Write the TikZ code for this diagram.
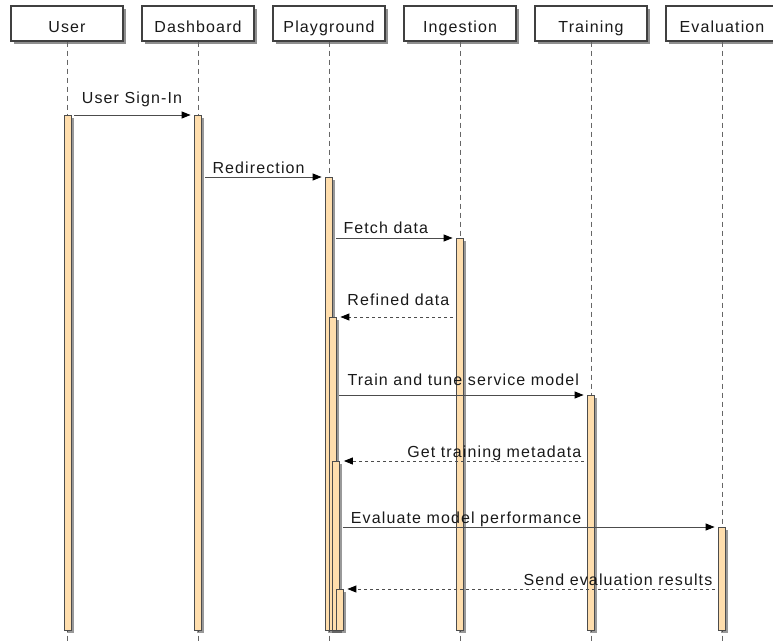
\documentclass[tikz,border=0pt]{standalone}
\usepackage{fontspec}
\setmainfont{Liberation Sans}[LetterSpace=7.0]
\usetikzlibrary{arrows.meta,shadows}
\definecolor{barfill}{RGB}{255,222,173}
\definecolor{txtclr}{RGB}{25,25,25}
\begin{document}
\begin{tikzpicture}[x=1pt,y=-1pt,
  every node/.style={font=\fontsize{16}{19}\selectfont, text=txtclr},
  head/.style={draw=black!75, line width=1.2pt, fill=white, minimum width=112pt,
    minimum height=35pt, inner sep=0pt, text height=19pt, text depth=0pt, anchor=base,
    drop shadow={shadow xshift=3pt, shadow yshift=-3.5pt, opacity=0.55, fill=black!80}},
  lifeline/.style={draw=black!60, line width=0.8pt, dash pattern=on 5pt off 4pt},
  actbar/.style={draw=black!70, line width=0.8pt, fill=barfill, minimum width=7pt,
    inner sep=0pt, anchor=north,
    drop shadow={shadow xshift=2.5pt, shadow yshift=-2.5pt, opacity=0.5, fill=black!80}},
  msg/.style={draw=black!70, line width=0.9pt,
    -{Triangle[length=9pt,width=7pt,color=black]}, shorten <=3pt, shorten >=3.5pt},
  ret/.style={msg, dash pattern=on 3pt off 3pt, shorten >=4pt},
  lblw/.style={inner sep=0pt, anchor=base west},
  lble/.style={inner sep=0pt, anchor=base east}
]
\useasboundingbox (0,0) rectangle (773,644);
\clip (0,0) rectangle (773,644);

% lifeline ends
\coordinate (uend) at (67,644);
\coordinate (dend) at (198,644);
\coordinate (pend) at (329,644);
\coordinate (iend) at (460,644);
\coordinate (tend) at (591,644);
\coordinate (eend) at (722,644);

% headers
\node[head] (hUser) at (67,33) {User};
\node[head] (hDash) at (198,33) {Dashboard};
\node[head] (hPlay) at (329,33) {Playground};
\node[head] (hIng) at (460,33) {Ingestion};
\node[head] (hTrn) at (591,33) {Training};
\node[head] (hEval) at (722,33) {Evaluation};

% lifelines
\draw[lifeline] (hUser.south) -- (uend);
\draw[lifeline] (hDash.south) -- (dend);
\draw[lifeline] (hPlay.south) -- (pend);
\draw[lifeline] (hIng.south) -- (iend);
\draw[lifeline] (hTrn.south) -- (tend);
\draw[lifeline] (hEval.south) -- (eend);

% activation bars
\node[actbar, minimum height=515pt] (user) at (67.5,115) {};
\node[actbar, minimum height=515pt] (dash) at (198,115) {};
\node[actbar, minimum height=453pt] (pg1) at (329,177) {};
\node[actbar, minimum height=392pt] (ing) at (460,238) {};
\node[actbar, minimum height=313pt] (pg2) at (332.5,317) {};
\node[actbar, minimum height=235pt] (trn) at (591,395) {};
\node[actbar, minimum height=169pt] (pg3) at (336,461) {};
\node[actbar, minimum height=103pt] (evl) at (722,527) {};
\node[actbar, minimum height=41pt] (pg4) at (339.5,589) {};

% messages
\draw[msg] (user.north east) -- (dash.north west);
\draw[msg] (dash.east |- pg1.north) -- (pg1.north west);
\draw[msg] (pg1.east |- ing.north) -- (ing.north west);
\draw[ret] (ing.west |- pg2.north) -- (pg2.north east);
\draw[msg] (pg2.east |- trn.north) -- (trn.north west);
\draw[ret] (trn.west |- pg3.north) -- (pg3.north east);
\draw[msg] (pg3.east |- evl.north) -- (evl.north west);
\draw[ret] (evl.west |- pg4.north) -- (pg4.north east);

% labels
\node[lblw] (l1) at (81.7,104) {User Sign-In};
\node[lblw] (l2) at (212.3,173.3) {Redirection};
\node[lblw] (l3) at (343.3,234) {Fetch data};
\node[lble] (l4) at (449.5,305) {Refined data};
\node[lblw] (l5) at (347.3,385) {Train and tune service model};
\node[lble] (l6) at (581.5,457.3) {Get training metadata};
\node[lblw] (l7) at (350.7,523.3) {Evaluate model performance};
\node[lble] (l8) at (712.5,585.7) {Send evaluation results};
\end{tikzpicture}
\end{document}
